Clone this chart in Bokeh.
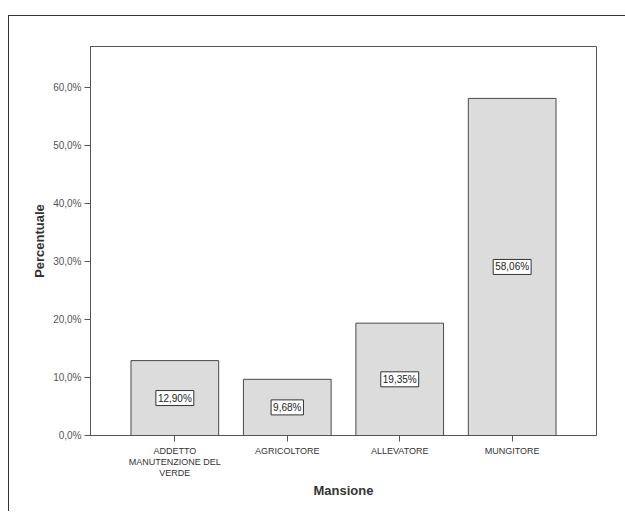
from bokeh.plotting import figure
from bokeh.models import ColumnDataSource, FactorRange, Range1d, FixedTicker
from bokeh.core.properties import value
from bokeh.embed import file_html
from bokeh.resources import INLINE

# Job roles (x categories) and share of respondents per role, in percent
categories = ["ADDETTO\nMANUTENZIONE DEL\nVERDE", "AGRICOLTORE", "ALLEVATORE", "MUNGITORE"]
percentages = [12.90, 9.68, 19.35, 58.06]

# Y axis ticks and their Italian-style labels
y_ticks = [0, 10, 20, 30, 40, 50, 60]
y_tick_labels = ["0,0%", "10,0%", "20,0%", "30,0%", "40,0%", "50,0%", "60,0%"]

FONT = "Liberation Sans"

bar_labels = [f"{v:.2f}".replace(".", ",") + "%" for v in percentages]
source = ColumnDataSource(data=dict(
    x=categories,
    top=percentages,
    mid=[v / 2 for v in percentages],
    label=bar_labels,
))

p = figure(
    x_range=FactorRange(*categories, range_padding=0.25, range_padding_units="absolute"),
    y_range=Range1d(0, 67),
    width=617, height=496,
    output_backend="svg", toolbar_location=None,
    min_border_left=81, min_border_right=30, min_border_top=30, min_border_bottom=77,
)
p.styles = {
    "margin-left": "8px",
    "margin-top": "15px",
    "border-top": "1px solid #333",
    "border-left": "1px solid #333",
}

p.vbar(x="x", top="top", width=0.78, source=source,
       fill_color="#dcdcdd", line_color="#4a4a4a", line_width=1)

p.text(x="x", y="mid", text="label", source=source,
       text_align="center", text_baseline="middle",
       text_font=value(FONT), text_font_size="10px", text_color="#222222",
       background_fill_color="white", border_line_color="#333333",
       border_line_width=1, padding=2)

p.xgrid.visible = False
p.ygrid.visible = False
p.outline_line_color = "#555555"
p.outline_line_width = 1
p.background_fill_color = "white"
p.border_fill_color = "white"

# Y axis
p.yaxis.ticker = FixedTicker(ticks=y_ticks)
p.yaxis.major_label_overrides = dict(zip(y_ticks, y_tick_labels))
p.yaxis.minor_tick_line_color = None
p.yaxis.major_tick_out = 6
p.yaxis.major_tick_in = 0
p.yaxis.axis_line_color = "#555555"
p.yaxis.major_tick_line_color = "#555555"
p.yaxis.major_label_text_font = FONT
p.yaxis.major_label_text_font_size = "10px"
p.yaxis.major_label_text_color = "#555555"
p.yaxis.major_label_standoff = 3
p.yaxis.axis_label = "Percentuale"
p.yaxis.axis_label_text_font = FONT
p.yaxis.axis_label_text_font_style = "bold"
p.yaxis.axis_label_text_font_size = "13px"
p.yaxis.axis_label_text_color = "#333333"
p.yaxis.axis_label_standoff = 3

# X axis
p.xaxis.major_tick_out = 6
p.xaxis.major_tick_in = 0
p.xaxis.axis_line_color = "#555555"
p.xaxis.major_tick_line_color = "#555555"
p.xaxis.major_label_orientation = "horizontal"
p.xaxis.major_label_text_font = FONT
p.xaxis.major_label_text_font_size = "9px"
p.xaxis.major_label_text_color = "#333333"
p.xaxis.major_label_text_line_height = 1.1
p.xaxis.major_label_standoff = 4
p.xaxis.axis_label = "Mansione"
p.xaxis.axis_label_text_font = FONT
p.xaxis.axis_label_text_font_style = "bold"
p.xaxis.axis_label_text_font_size = "13px"
p.xaxis.axis_label_text_color = "#333333"
p.xaxis.axis_label_standoff = 2

open("out.html", "w").write(file_html(p, INLINE))
